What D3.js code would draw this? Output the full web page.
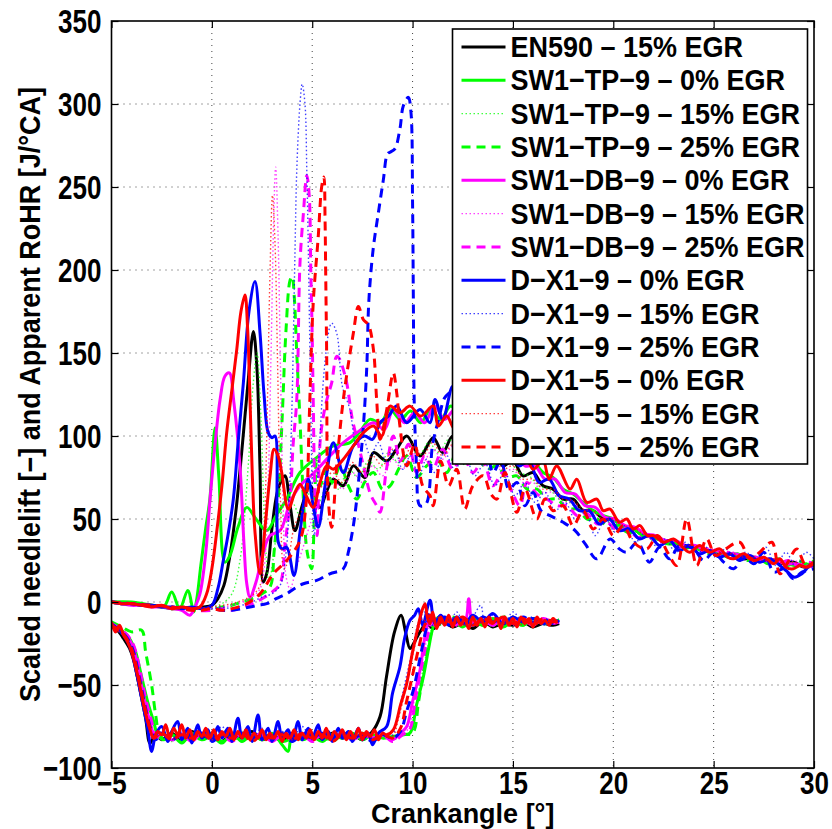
<!DOCTYPE html>
<html>
<head>
<meta charset="utf-8">
<script src="https://cdn.jsdelivr.net/npm/d3@7"></script>
<style>
  body { margin: 0; background: #fff; }
  text { font-family: "Liberation Sans", Arial, sans-serif; font-weight: bold; fill: #000; }
</style>
</head>
<body>
<svg id="chart" width="832" height="829"></svg>
<script>

// legend / series definitions
const legendLabels = [
    "EN590 \u2013 15% EGR",
    "SW1\u2212TP\u22129 \u2013 0% EGR",
    "SW1\u2212TP\u22129 \u2013 15% EGR",
    "SW1\u2212TP\u22129 \u2013 25% EGR",
    "SW1\u2212DB\u22129 \u2013 0% EGR",
    "SW1\u2212DB\u22129 \u2013 15% EGR",
    "SW1\u2212DB\u22129 \u2013 25% EGR",
    "D\u2212X1\u22129 \u2013 0% EGR",
    "D\u2212X1\u22129 \u2013 15% EGR",
    "D\u2212X1\u22129 \u2013 25% EGR",
    "D\u2212X1\u22125 \u2013 0% EGR",
    "D\u2212X1\u22125 \u2013 15% EGR",
    "D\u2212X1\u22125 \u2013 25% EGR"
]
const lineColors = ["#000000", "#00ff00", "#00ff00", "#00ff00", "#ff00ff", "#ff00ff", "#ff00ff",
                    "#0000ff", "#0000ff", "#0000ff", "#ff0000", "#ff0000", "#ff0000"]
const lineStyles = ["solid", "solid", "dotted", "dashed", "solid", "dotted", "dashed",
                    "solid", "dotted", "dashed", "solid", "dotted", "dashed"]

const xTicks = [-5, 0, 5, 10, 15, 20, 25, 30]
const yTicks = [-100, -50, 0, 50, 100, 150, 200, 250, 300, 350]

// apparent rate of heat release [J/°CA] vs crank angle [°]
const rohr_en590 = [[-5,0],[-4.5,-1],[-4,-1],[-3.5,-2],[-3,-2],[-2.5,-3],[-2,-4],[-1.5,-3],[-1,-4],[-0.5,-3],[0,-2],[0.3,2],[0.6,10],[0.9,28],[1.2,55],[1.5,92],[1.8,132],[2.07,163],[2.25,140],[2.4,80],[2.56,12],[2.75,18],[3.0,45],[3.3,68],[3.64,76],[3.9,58],[4.14,43],[4.5,58],[4.89,70],[5.39,57],[5.7,66],[6.05,74],[6.55,70],[7.05,82],[7.63,75],[8.05,90],[8.71,85],[9.2,92],[9.71,100],[10.37,88],[11.03,99],[11.5,90],[12,100],[12.5,92],[13,98],[13.5,88],[14,92],[14.5,82],[15,85],[15.5,76],[16,78],[16.5,70],[17,68],[17.5,62],[18,62],[18.5,55],[19,55],[19.5,50],[20,50],[20.5,45],[21,44],[21.5,40],[22,40],[22.5,37],[23,36],[23.5,33],[24,33],[24.5,31],[25,30],[25.5,28],[26,29],[26.5,26],[27,27],[27.5,25],[28,25],[28.5,23],[29,24],[29.5,21],[30,22]]
const rohr_tp9_0 = [[-5,0],[-4,0],[-3,-2],[-2.4,-3],[-2.0,6],[-1.6,-4],[-1.2,7],[-0.9,-6],[-0.75,2],[-0.55,22],[-0.3,45],[-0.1,62],[0.16,105],[0.35,75],[0.65,24],[0.9,28],[1.3,45],[1.74,57],[2.2,50],[2.73,43],[3.2,52],[3.73,62],[4.39,78],[5.22,87],[6.05,94],[6.88,96],[7.4,103],[7.88,110],[8.4,108],[8.88,116],[9.4,110],[9.9,115],[10.4,108],[10.9,116],[11.4,110],[11.9,118],[12.4,112],[13,115],[13.5,105],[14,108],[14.5,98],[15,95],[15.5,88],[16,85],[16.5,78],[17,75],[17.5,68],[18,65],[18.5,60],[19,55],[19.5,52],[20,50],[20.5,45],[21,44],[21.5,40],[22,40],[22.5,37],[23,36],[23.5,34],[24,33],[24.5,31],[25,31],[25.5,29],[26,29],[26.5,27],[27,27],[27.5,25],[28,25],[28.5,24],[29,22],[29.5,23],[30,22]]
const rohr_tp9_15 = [[-5,0],[-4,-1],[-3,-2],[-2,-3],[-1,-4],[0,-3],[0.5,-1],[1.0,5],[1.4,25],[1.8,80],[2.05,130],[2.25,150],[2.45,110],[2.65,40],[2.85,12],[3.1,30],[3.4,55],[3.7,48],[4.0,60],[4.4,52],[4.8,65],[5.3,60],[5.8,72],[6.3,68],[6.8,80],[7.3,75],[7.8,85],[8.3,80],[8.8,90],[9.3,84],[9.8,95],[10.3,88],[10.8,96],[11.3,90],[11.8,98],[12.3,92],[12.8,96],[13.3,88],[13.8,92],[14.3,85],[14.8,85],[15.3,78],[15.8,76],[16.3,70],[16.8,68],[17.3,62],[17.8,60],[18.3,56],[18.8,54],[19.3,50],[19.8,48],[20.3,46],[20.8,43],[21.3,41],[21.8,39],[22.3,37],[22.8,35],[23.3,34],[23.8,32],[24.3,31],[24.8,30],[25.3,29],[25.8,28],[26.3,27],[26.8,27],[27.3,25],[27.8,25],[28.3,24],[28.8,23],[29.3,22],[29.8,24],[30,23]]
const rohr_tp9_25 = [[-5,0],[-4,-1],[-3,-2],[-2,-4],[-1,-4],[0,-5],[0.5,-3],[1.0,-2],[1.5,0],[2.0,2],[2.5,5],[2.9,9],[3.1,30],[3.31,62],[3.5,110],[3.7,165],[3.9,194],[4.0,196],[4.1,185],[4.23,150],[4.39,110],[4.56,62],[4.75,30],[4.97,20],[5.1,50],[5.22,85],[5.4,70],[5.7,80],[6.0,72],[6.4,82],[6.8,70],[7.22,62],[7.6,72],[8.05,78],[8.5,68],[8.88,70],[9.3,80],[9.71,88],[10.2,75],[10.7,82],[11.2,86],[11.7,78],[12.2,90],[12.7,82],[13.2,88],[13.7,80],[14.2,82],[14.7,75],[15.2,76],[15.7,68],[16.2,68],[16.7,62],[17.2,62],[17.7,56],[18.2,56],[18.7,50],[19.2,50],[19.7,46],[20.2,46],[20.7,42],[21.2,42],[21.7,38],[22.2,38],[22.7,35],[23.2,35],[23.7,32],[24.2,32],[24.7,29],[25.2,31],[25.7,27],[26.2,29],[26.7,25],[27.2,27],[27.7,23],[28.2,26],[28.7,22],[29.2,25],[29.7,22],[30,25]]
const rohr_db9_0 = [[-5,0],[-4.5,-1],[-4,-2],[-3.5,-2],[-3,-3],[-2.5,-3],[-2,-4],[-1.5,-5],[-1.1,-8],[-0.8,-2],[-0.59,5],[-0.3,30],[-0.09,62],[0.2,100],[0.41,122],[0.65,136],[0.87,138],[1.1,120],[1.4,82],[1.6,35],[1.74,11],[1.9,3],[2.2,12],[2.56,30],[2.9,40],[3.4,43],[3.9,60],[4.39,70],[5.1,78],[5.88,88],[6.55,96],[7.22,102],[8.05,108],[8.6,104],[9.04,116],[9.6,108],[10.1,114],[10.6,108],[11.1,118],[11.6,110],[12.1,116],[12.6,106],[13.1,110],[13.6,98],[14.1,100],[14.6,90],[15.1,90],[15.6,82],[16.1,82],[16.6,74],[17.1,74],[17.6,66],[18.1,65],[18.6,58],[19.1,57],[19.6,51],[20.1,50],[20.6,46],[21.1,45],[21.6,41],[22.1,40],[22.6,37],[23.1,37],[23.6,34],[24.1,34],[24.6,31],[25.1,31],[25.6,29],[26.1,29],[26.6,27],[27.1,27],[27.6,25],[28.1,25],[28.6,23],[29.1,23],[29.6,21],[30,22]]
const rohr_db9_15 = [[-5,0],[-4,-1],[-3,-2],[-2,-3],[-1,-4],[0,-4],[0.5,-3],[1,-2],[1.5,0],[2.0,3],[2.4,8],[2.6,20],[2.8,70],[2.95,150],[3.08,230],[3.18,262],[3.3,220],[3.42,140],[3.55,60],[3.7,15],[3.9,8],[4.2,20],[4.6,35],[5.0,50],[5.5,60],[6.0,75],[6.5,68],[7.0,78],[7.5,72],[8.0,82],[8.5,76],[9.0,86],[9.5,80],[10.0,90],[10.5,84],[11.0,92],[11.5,86],[12.0,94],[12.5,86],[13.0,90],[13.5,82],[14.0,86],[14.5,78],[15.0,80],[15.5,72],[16.0,72],[16.5,66],[17.0,66],[17.5,60],[18.0,60],[18.5,54],[19.0,54],[19.5,49],[20.0,49],[20.5,45],[21.0,45],[21.5,41],[22.0,40],[22.5,37],[23.0,37],[23.5,34],[24.0,34],[24.5,31],[25.0,32],[25.5,29],[26.0,30],[26.5,27],[27.0,28],[27.5,25],[28.0,26],[28.5,23],[29.0,25],[29.5,22],[30,24]]
const rohr_db9_25 = [[-5,0],[-4,-1],[-3,-2],[-2,-3],[-1,-5],[0,-5],[0.5,-4],[1.0,-5],[1.5,-3],[2.0,-1],[2.5,2],[3.0,6],[3.4,11],[3.65,35],[3.9,62],[4.05,95],[4.23,122],[4.39,204],[4.56,234],[4.73,257],[4.85,245],[4.93,200],[5.0,160],[5.05,122],[5.14,62],[5.25,40],[5.39,96],[5.6,115],[5.8,125],[5.97,132],[6.22,148],[6.38,146],[6.55,140],[6.72,132],[7.0,110],[7.3,95],[7.55,82],[7.9,65],[8.21,58],[8.38,54],[8.7,80],[9.04,100],[9.4,85],[9.8,95],[10.2,78],[10.6,88],[11.0,80],[11.5,92],[12.0,80],[12.5,88],[13.0,78],[13.5,85],[14.0,70],[14.5,78],[15.0,65],[15.35,58],[15.7,72],[16.2,65],[16.7,62],[17.2,58],[17.7,58],[18.2,52],[18.7,53],[19.2,47],[19.7,48],[20.2,43],[20.7,44],[21.2,39],[21.7,40],[22.2,36],[22.7,37],[23.2,33],[23.7,34],[24.2,30],[24.7,32],[25.2,28],[25.7,30],[26.2,26],[26.7,28],[27.2,25],[27.7,26],[28.2,23],[28.7,25],[29.2,22],[29.7,24],[30,23]]
const rohr_x19_0 = [[-5,0],[-4.5,-1],[-4,-1],[-3.5,-2],[-3,-2],[-2.5,-3],[-2,-3],[-1.5,-4],[-1,-3],[-0.5,-4],[0,-2],[0.3,8],[0.57,25],[0.8,40],[1.07,62],[1.3,95],[1.57,132],[1.85,175],[2.15,193],[2.4,162],[2.6,125],[2.81,102],[3.0,99],[3.15,100],[3.31,36],[3.5,32],[3.73,33],[4.09,16],[4.39,42],[4.8,74],[5.05,58],[5.3,45],[5.64,70],[6.05,96],[6.55,78],[7.05,94],[7.6,100],[8.0,98],[8.38,108],[8.8,112],[9.21,118],[9.71,108],[10.37,116],[10.87,108],[11.12,122],[11.5,110],[12.0,130],[12.4,112],[12.8,118],[13.3,102],[13.8,108],[14.3,92],[14.8,95],[15.3,82],[15.8,85],[16.3,72],[16.8,74],[17.3,64],[17.8,62],[18.3,55],[18.8,55],[19.3,47],[19.8,50],[20.3,43],[20.8,44],[21.3,38],[21.8,40],[22.3,34],[22.8,37],[23.3,31],[23.8,34],[24.3,29],[24.8,31],[25.3,27],[25.8,29],[26.3,25],[26.8,28],[27.3,24],[27.8,26],[28.3,22],[28.7,18],[29.0,15],[29.4,17],[29.8,22],[30,22]]
const rohr_x19_15 = [[-5,0],[-4,-1],[-3,-2],[-2,-3],[-1,-4],[0,-4],[0.5,-3],[1.0,-4],[1.5,-2],[2.0,0],[2.5,3],[3.0,5],[3.4,10],[3.7,30],[3.95,100],[4.14,210],[4.23,260],[4.39,300],[4.5,312],[4.64,300],[4.73,260],[4.81,210],[4.9,140],[5.0,70],[5.1,40],[5.3,80],[5.6,140],[5.88,166],[5.97,168],[6.22,162],[6.5,130],[6.88,116],[7.2,95],[7.5,100],[7.9,88],[8.3,96],[8.7,84],[9.1,92],[9.5,80],[9.9,88],[10.3,76],[10.7,86],[11.1,78],[11.6,90],[12.1,80],[12.6,88],[13.1,76],[13.6,84],[14.1,70],[14.6,78],[15.1,64],[15.6,72],[16.1,60],[16.6,66],[17.1,55],[17.6,60],[18.1,50],[18.6,54],[19.1,40],[19.6,50],[20.1,42],[20.6,46],[21.1,36],[21.6,42],[22.1,34],[22.6,38],[23.1,30],[23.6,36],[24.1,28],[24.6,33],[25.1,27],[25.6,32],[26.1,26],[26.6,30],[27.1,25],[27.6,33],[28.1,22],[28.6,30],[29.1,21],[29.6,30],[30,26]]
const rohr_x19_25 = [[-5,0],[-4,-1],[-3,-2],[-2,-3],[-1,-4],[0,-4],[0.5,-5],[1.0,-5],[1.5,-4],[1.9,-3],[2.3,-2],[2.73,-1],[3.2,2],[3.73,5],[4.1,8],[4.56,11],[5.22,13],[5.88,17],[6.55,20],[6.8,30],[7.05,46],[7.22,62],[7.38,82],[7.55,106],[7.72,142],[7.8,176],[7.88,192],[8.05,214],[8.29,234],[8.54,254],[8.75,270],[8.88,271],[9.12,273],[9.37,285],[9.54,299],[9.79,304],[9.92,295],[10.0,240],[10.04,180],[10.08,122],[10.2,82],[10.37,58],[10.67,59],[11.0,95],[11.3,110],[11.6,123],[12.0,128],[12.39,135],[12.8,110],[13.2,95],[13.6,100],[14.0,78],[14.4,85],[14.8,68],[15.2,72],[15.6,58],[16.0,66],[16.4,55],[16.85,52],[17.5,48],[18.1,43],[18.6,35],[19.18,26],[19.84,38],[20.3,32],[20.67,30],[21.2,36],[21.8,24],[22.3,33],[22.8,26],[23.3,34],[24.0,32],[24.5,25],[25.0,30],[25.5,24],[26.0,20],[26.5,28],[27.0,23],[27.5,30],[28.0,18],[28.5,20],[28.97,14],[29.4,18],[30,20]]
const rohr_x15_0 = [[-5,0],[-4.5,-1],[-4,-1],[-3.5,-2],[-3,-3],[-2.5,-2],[-2,-4],[-1.5,-3],[-1,-4],[-0.6,-3],[-0.26,5],[0.0,20],[0.24,42],[0.5,70],[0.74,102],[1.0,128],[1.24,152],[1.45,175],[1.65,185],[1.78,165],[1.9,122],[2.02,75],[2.15,42],[2.4,17],[2.65,45],[2.9,76],[3.1,92],[3.3,88],[3.48,78],[3.81,56],[4.14,66],[4.39,71],[4.7,64],[5.05,57],[5.39,72],[5.72,82],[6.05,80],[6.55,86],[7.05,94],[7.55,102],[8.05,106],[8.46,100],[8.88,118],[9.37,114],[9.87,118],[10.4,112],[11.03,118],[11.28,106],[11.7,112],[12.1,104],[12.5,110],[13.0,100],[13.5,106],[14.0,95],[14.5,100],[15.0,88],[15.5,92],[16.0,80],[16.5,85],[16.8,74],[17.18,82],[17.85,68],[18.18,74],[18.68,60],[19.18,62],[19.5,55],[19.84,56],[20.3,48],[20.67,50],[21.0,44],[21.33,46],[21.7,40],[22.0,40],[22.5,36],[23.0,38],[23.3,35],[23.8,30],[24.3,34],[24.8,30],[25.3,32],[25.7,27],[26.0,26],[26.5,29],[27.0,25],[27.5,27],[28.0,23],[28.3,26],[28.6,21],[28.97,20],[29.3,22],[29.64,21],[30,23]]
const rohr_x15_15 = [[-5,0],[-4,-1],[-3,-2],[-2,-3],[-1,-4],[0,-3],[0.5,-2],[1.0,-1],[1.5,1],[2.0,4],[2.4,10],[2.6,40],[2.75,110],[2.9,200],[3.02,245],[3.15,215],[3.28,140],[3.42,60],[3.6,20],[3.8,25],[4.1,45],[4.5,55],[5.0,62],[5.5,70],[6.0,78],[6.5,72],[7.0,84],[7.5,78],[8.0,88],[8.5,82],[9.0,92],[9.5,85],[10.0,95],[10.5,88],[11.0,96],[11.5,88],[12.0,95],[12.5,88],[13.0,92],[13.5,84],[14.0,88],[14.5,80],[15.0,82],[15.5,74],[16.0,74],[16.5,68],[17.0,68],[17.5,62],[18.0,61],[18.5,56],[19.0,55],[19.5,50],[20.0,50],[20.5,46],[21.0,45],[21.5,41],[22.0,40],[22.5,37],[23.0,37],[23.5,34],[24.0,34],[24.5,31],[25.0,32],[25.5,29],[26.0,29],[26.5,27],[27.0,27],[27.5,25],[28.0,26],[28.5,23],[29.0,24],[29.5,22],[30,23]]
const rohr_x15_25 = [[-5,0],[-4,-1],[-3,-2],[-2,-3],[-1,-5],[-0.5,-5],[0,-4],[0.5,-5],[1.0,-4],[1.74,-1],[2.4,5],[3.06,17],[3.73,25],[4.39,37],[4.7,60],[4.85,110],[5.05,180],[5.3,220],[5.47,250],[5.58,256],[5.64,230],[5.67,200],[5.72,150],[5.8,62],[5.97,45],[6.22,82],[6.55,122],[7.05,162],[7.3,178],[7.55,170],[7.8,167],[8.05,152],[8.21,122],[8.38,98],[8.7,115],[9.04,138],[9.21,126],[9.37,106],[9.71,82],[10.1,95],[10.5,70],[10.87,64],[11.03,58],[11.4,85],[11.8,70],[12.2,80],[12.6,56],[13.0,70],[13.52,76],[13.9,65],[14.2,62],[14.6,78],[15.19,54],[15.6,68],[16.19,50],[16.6,62],[17.0,55],[17.5,58],[18.0,46],[18.5,55],[19.0,44],[19.5,50],[20.0,40],[20.5,46],[21.0,36],[21.67,32],[22.2,40],[22.7,30],[23.16,22],[23.66,50],[24.16,22],[24.65,38],[25.1,28],[25.6,32],[26.3,36],[26.8,26],[27.3,30],[27.9,36],[28.3,17],[28.7,24],[29.14,32],[29.6,22],[30,24]]

// scaled needle lift [-] (plotted negative) vs crank angle [°]
const lift_en590 = [[-5,-14],[-4.7,-17],[-4.4,-22],[-4.1,-28],[-3.9,-35],[-3.6,-52],[-3.3,-70],[-3.08,-85],[-2.8,-80],[-2.5,-83],[-2,-79],[-1.5,-84],[-1,-78],[-0.5,-82],[0,-80],[0.5,-84],[1,-79],[1.5,-82],[2,-78],[2.5,-83],[3,-80],[3.5,-84],[4,-79],[4.5,-82],[5,-80],[5.5,-83],[6,-79],[6.5,-82],[7,-80],[7.5,-83],[8,-78],[8.38,-69],[8.7,-45],[9.1,-18],[9.43,-8],[9.65,-18],[9.87,-28],[10.1,-24],[10.37,-18],[10.7,-13],[11.03,-16],[11.5,-12],[12,-15],[12.5,-13],[13,-16],[13.5,-12],[14,-15],[14.5,-13],[15,-14],[15.5,-12],[16,-15],[16.5,-13],[17,-14],[17.3,-13]]
const lift_tp9_0 = [[-5,-13],[-4.7,-16],[-4.4,-18],[-4.1,-22],[-3.8,-30],[-3.5,-45],[-3.2,-60],[-2.9,-72],[-2.7,-80],[-2.4,-83],[-2,-80],[-1.5,-85],[-1,-79],[-0.5,-83],[0,-81],[0.5,-85],[1,-79],[1.5,-84],[2,-80],[2.5,-83],[3,-79],[3.5,-86],[3.8,-90],[4,-80],[4.5,-83],[5,-81],[5.5,-84],[6,-80],[6.5,-82],[7,-79],[7.5,-83],[8,-80],[8.5,-82],[9,-81],[9.5,-80],[9.87,-79],[10.2,-62],[10.54,-45],[10.8,-28],[11.03,-15],[11.3,-9],[11.6,-13],[12,-11],[12.5,-15],[13,-10],[13.5,-14],[14,-11],[14.5,-15],[15,-12],[15.5,-14],[16,-10],[16.5,-13],[17,-12],[17.3,-11]]
const lift_tp9_15 = [[-5,-15],[-4.6,-18],[-4.2,-22],[-3.9,-30],[-3.6,-44],[-3.3,-60],[-3.0,-74],[-2.7,-82],[-2.3,-79],[-2,-84],[-1.5,-80],[-1,-83],[-0.5,-79],[0,-84],[0.5,-80],[1,-82],[1.5,-78],[2,-84],[2.5,-80],[3,-83],[3.5,-79],[4,-82],[4.5,-80],[5,-84],[5.5,-79],[6,-82],[6.5,-80],[7,-83],[7.5,-79],[8,-82],[8.5,-80],[9,-83],[9.5,-80],[9.9,-78],[10.2,-60],[10.5,-42],[10.8,-25],[11.1,-12],[11.4,-14],[11.8,-10],[12.2,-14],[12.6,-9],[13,-13],[13.5,-11],[14,-15],[14.5,-8],[15,-13],[15.5,-10],[16,-14],[16.5,-11],[17,-13],[17.3,-10]]
const lift_tp9_25 = [[-5,-12],[-4.5,-15],[-4,-18],[-3.5,-17],[-3.3,-30],[-3.0,-50],[-2.8,-68],[-2.6,-80],[-2.3,-83],[-2,-80],[-1.5,-84],[-1,-80],[-0.5,-83],[0,-79],[0.5,-84],[1,-81],[1.5,-83],[2,-79],[2.5,-82],[3,-80],[3.5,-84],[4,-82],[4.5,-79],[5,-83],[5.5,-80],[6,-84],[6.5,-80],[7,-82],[7.5,-79],[8,-83],[8.5,-80],[9,-82],[9.5,-80],[10,-79],[10.3,-60],[10.6,-38],[10.9,-20],[11.2,-10],[11.6,-13],[12,-9],[12.5,-13],[13,-11],[13.5,-14],[14,-10],[14.5,-13],[15,-11],[15.5,-14],[16,-10],[16.5,-13],[17,-11],[17.3,-12]]
const lift_db9_0 = [[-5,-14],[-4.6,-17],[-4.2,-21],[-3.9,-28],[-3.6,-45],[-3.3,-62],[-3.0,-76],[-2.8,-82],[-2.5,-79],[-2,-83],[-1.5,-80],[-1,-84],[-0.5,-79],[0,-82],[0.5,-80],[1,-83],[1.5,-79],[2,-82],[2.5,-80],[3,-84],[3.5,-80],[4,-82],[4.5,-79],[5,-83],[5.5,-80],[6,-82],[6.5,-79],[7,-83],[7.5,-80],[8,-82],[8.5,-80],[9,-83],[9.4,-79],[9.71,-75],[10.0,-60],[10.37,-41],[10.6,-22],[10.87,-9],[11.1,-14],[11.5,-10],[12,-13],[12.6,-12],[12.8,2],[13.0,-12],[13.5,-11],[14,-14],[14.5,-10],[15,-13],[15.5,-10],[16,-13],[16.5,-11],[17,-13],[17.3,-12]]
const lift_db9_15 = [[-5,-15],[-4.6,-18],[-4.2,-22],[-3.9,-30],[-3.6,-46],[-3.3,-62],[-3.0,-75],[-2.8,-82],[-2.5,-80],[-2,-84],[-1.5,-79],[-1,-82],[-0.5,-80],[0,-84],[0.5,-79],[1,-83],[1.5,-80],[2,-82],[2.5,-79],[3,-83],[3.5,-80],[4,-84],[4.5,-80],[5,-82],[5.5,-79],[6,-83],[6.5,-80],[7,-82],[7.5,-80],[8,-84],[8.5,-80],[9,-82],[9.5,-80],[9.8,-76],[10.1,-58],[10.45,-38],[10.75,-20],[11.0,-10],[11.4,-13],[11.8,-9],[12.2,-13],[12.6,-10],[13,-14],[13.5,-10],[14,-13],[14.5,-11],[15,-14],[15.5,-10],[16,-13],[16.5,-11],[17,-13],[17.3,-11]]
const lift_db9_25 = [[-5,-13],[-4.6,-16],[-4.2,-20],[-3.9,-26],[-3.6,-40],[-3.3,-58],[-3.0,-72],[-2.75,-82],[-2.5,-79],[-2,-83],[-1.5,-80],[-1,-82],[-0.5,-79],[0,-83],[0.5,-80],[1,-84],[1.5,-80],[2,-82],[2.5,-79],[3,-83],[3.5,-80],[4,-82],[4.5,-80],[5,-84],[5.5,-80],[6,-82],[6.5,-79],[7,-83],[7.5,-80],[8,-82],[8.5,-80],[9,-84],[9.5,-80],[9.85,-77],[10.15,-58],[10.5,-36],[10.8,-18],[11.05,-9],[11.4,-12],[11.8,-10],[12.2,-14],[12.6,-10],[13,-13],[13.5,-11],[14,-14],[14.5,-10],[15,-13],[15.5,-11],[16,-14],[16.5,-10],[17,-12],[17.3,-12]]
const lift_x19_0 = [[-5,-13],[-4.7,-16],[-4.4,-20],[-4.1,-26],[-3.8,-40],[-3.5,-58],[-3.2,-76],[-3.0,-90],[-2.8,-80],[-2.5,-75],[-2.2,-84],[-2,-78],[-1.7,-72],[-1.5,-83],[-1.2,-76],[-1,-85],[-0.7,-74],[-0.5,-82],[-0.2,-77],[0,-84],[0.3,-75],[0.5,-82],[0.8,-76],[1,-84],[1.3,-70],[1.5,-82],[1.8,-75],[2,-84],[2.3,-68],[2.5,-83],[2.8,-76],[3,-84],[3.3,-72],[3.5,-82],[3.8,-77],[4,-84],[4.3,-72],[4.5,-83],[4.8,-76],[5,-82],[5.3,-74],[5.5,-83],[5.8,-78],[6,-84],[6.3,-76],[6.5,-82],[6.8,-78],[7,-84],[7.3,-76],[7.5,-83],[7.8,-79],[8,-86],[8.3,-79],[8.71,-75],[9.0,-55],[9.37,-39],[9.6,-22],[9.87,-11],[10.1,-8],[10.29,-4],[10.5,-14],[10.87,1],[11.1,-13],[11.4,-8],[11.8,-14],[12.2,-9],[12.6,-13],[13,-8],[13.5,-12],[14,-7],[14.5,-13],[15,-9],[15.5,-12],[16,-10],[16.5,-13],[17,-11],[17.3,-12]]
const lift_x19_15 = [[-5,-15],[-4.6,-18],[-4.3,-23],[-4.0,-32],[-3.7,-48],[-3.4,-65],[-3.1,-78],[-2.9,-84],[-2.5,-78],[-2,-83],[-1.5,-76],[-1,-84],[-0.5,-78],[0,-82],[0.5,-75],[1,-84],[1.5,-79],[2,-82],[2.5,-76],[3,-84],[3.5,-78],[4,-82],[4.5,-75],[5,-83],[5.5,-78],[6,-82],[6.5,-77],[7,-84],[7.5,-79],[8,-82],[8.5,-80],[9.0,-80],[9.2,-72],[9.6,-50],[10.0,-28],[10.3,-12],[10.6,-6],[11.0,-14],[11.4,-8],[11.8,-13],[12.2,-6],[12.6,-14],[13,-9],[13.4,-2],[13.6,-13],[14,-8],[14.5,-14],[15,-6],[15.5,-12],[16,-9],[16.5,-14],[17,-10],[17.3,-12]]
const lift_x19_25 = [[-5,-14],[-4.6,-17],[-4.2,-22],[-3.9,-30],[-3.6,-46],[-3.3,-64],[-3.0,-78],[-2.8,-83],[-2.5,-79],[-2,-83],[-1.5,-80],[-1,-82],[-0.5,-79],[0,-84],[0.5,-80],[1,-82],[1.5,-79],[2,-83],[2.5,-80],[3,-82],[3.5,-79],[4,-84],[4.5,-80],[5,-82],[5.5,-79],[6,-83],[6.5,-80],[7,-82],[7.5,-80],[8,-84],[8.5,-80],[9.0,-82],[9.4,-78],[9.7,-66],[10.04,-53],[10.4,-32],[10.7,-15],[10.9,-6],[11.2,-12],[11.6,-9],[12,-13],[12.5,-10],[13,-14],[13.5,-9],[14,-12],[14.5,-10],[15,-13],[15.5,-9],[16,-12],[16.5,-10],[17,-13],[17.3,-11]]
const lift_x15_0 = [[-5,-12],[-4.8,-18],[-4.6,-14],[-4.4,-20],[-4.2,-24],[-4.0,-30],[-3.7,-44],[-3.4,-62],[-3.1,-76],[-2.9,-82],[-2.7,-78],[-2.5,-80],[-2.3,-74],[-2.1,-82],[-1.9,-76],[-1.7,-80],[-1.5,-74],[-1.3,-82],[-1.1,-77],[-0.9,-83],[-0.7,-78],[-0.5,-81],[-0.3,-76],[-0.1,-82],[0.1,-77],[0.3,-83],[0.5,-78],[0.7,-81],[0.9,-76],[1.1,-83],[1.3,-78],[1.5,-82],[1.7,-77],[1.9,-83],[2.1,-79],[2.3,-82],[2.5,-77],[2.7,-83],[2.9,-79],[3.1,-82],[3.3,-78],[3.5,-84],[3.7,-79],[3.9,-82],[4.1,-77],[4.3,-83],[4.5,-79],[4.7,-82],[4.9,-77],[5.1,-83],[5.3,-78],[5.5,-82],[5.7,-76],[5.9,-83],[6.1,-78],[6.3,-81],[6.5,-77],[6.7,-83],[6.9,-78],[7.1,-82],[7.3,-76],[7.5,-83],[7.7,-78],[7.9,-81],[8.1,-77],[8.3,-83],[8.5,-79],[8.7,-80],[9.04,-77],[9.4,-62],[9.71,-49],[10.0,-30],[10.2,-19],[10.45,-6],[10.62,-1],[10.75,-10],[10.87,-13],[11.0,-6],[11.2,-16],[11.4,-9],[11.6,-14],[11.8,-8],[12.0,-15],[12.2,-9],[12.4,-14],[12.6,-10],[12.8,-16],[13.0,-9],[13.2,-14],[13.4,-10],[13.6,-15],[13.8,-9],[14.0,-13],[14.2,-10],[14.4,-16],[14.6,-9],[14.8,-14],[15.0,-10],[15.2,-15],[15.4,-9],[15.6,-13],[15.8,-10],[16.0,-15],[16.2,-9],[16.4,-13],[16.6,-11],[16.8,-14],[17.0,-10],[17.2,-13]]
const lift_x15_15 = [[-5,-15],[-4.6,-18],[-4.3,-22],[-4.0,-30],[-3.7,-46],[-3.4,-63],[-3.1,-77],[-2.9,-82],[-2.5,-80],[-2,-83],[-1.5,-79],[-1,-82],[-0.5,-80],[0,-83],[0.5,-79],[1,-82],[1.5,-80],[2,-84],[2.5,-80],[3,-82],[3.5,-79],[4,-83],[4.5,-80],[5,-82],[5.5,-79],[6,-84],[6.5,-80],[7,-82],[7.5,-79],[8,-83],[8.5,-80],[9.0,-81],[9.3,-70],[9.6,-55],[9.9,-38],[10.2,-22],[10.5,-10],[10.8,-14],[11.2,-9],[11.6,-13],[12,-10],[12.5,-14],[13,-10],[13.5,-13],[14,-9],[14.5,-13],[15,-10],[15.5,-14],[16,-10],[16.5,-12],[17,-10],[17.3,-12]]
const lift_x15_25 = [[-5,-14],[-4.6,-17],[-4.3,-21],[-4.0,-28],[-3.7,-42],[-3.4,-60],[-3.1,-75],[-2.9,-82],[-2.5,-79],[-2,-83],[-1.5,-80],[-1,-82],[-0.5,-79],[0,-83],[0.5,-80],[1,-82],[1.5,-79],[2,-84],[2.5,-80],[3,-82],[3.5,-80],[4,-83],[4.5,-79],[5,-82],[5.5,-80],[6,-84],[6.5,-80],[7,-82],[7.5,-79],[8,-83],[8.5,-80],[9.0,-82],[9.4,-76],[9.7,-60],[10.0,-44],[10.3,-28],[10.6,-14],[10.9,-8],[11.2,-14],[11.6,-10],[12,-13],[12.5,-9],[13,-14],[13.5,-10],[14,-13],[14.5,-9],[15,-13],[15.5,-10],[16,-14],[16.5,-10],[17,-12],[17.3,-11]]

const rohrData = [rohr_en590, rohr_tp9_0, rohr_tp9_15, rohr_tp9_25, rohr_db9_0, rohr_db9_15, rohr_db9_25,
                  rohr_x19_0, rohr_x19_15, rohr_x19_25, rohr_x15_0, rohr_x15_15, rohr_x15_25]
const liftData = [lift_en590, lift_tp9_0, lift_tp9_15, lift_tp9_25, lift_db9_0, lift_db9_15, lift_db9_25,
                  lift_x19_0, lift_x19_15, lift_x19_25, lift_x15_0, lift_x15_15, lift_x15_25]

const series = legendLabels.map((label, i) => ({
    label: label, color: lineColors[i], style: lineStyles[i], rohr: rohrData[i], lift: liftData[i]
}))

// stroke look per line style
const style_lookup = {
    solid: { width: 3, dash: null, opacity: 1 },
    dashed: { width: 3, dash: "9,6", opacity: 1 },
    dotted: { width: 1.4, dash: "1.5,2.5", opacity: 0.75 }
}

const margin = { left: 111.5, top: 21, right: 18, bottom: 61 }
const width = 832 - margin.left - margin.right
const height = 829 - margin.top - margin.bottom

const svg = d3.select('#chart')

const x = d3.scaleLinear().domain([-5, 30]).range([margin.left, margin.left + width])
const y = d3.scaleLinear().domain([-100, 350]).range([margin.top + height, margin.top])

svg.append('defs').append('clipPath').attr('id', 'plot-clip')
    .append('rect')
    .attr('x', margin.left).attr('y', margin.top)
    .attr('width', width).attr('height', height)

// grid
const grid = svg.append('g').attr('class', 'grid')
    .attr('stroke', '#444').attr('stroke-width', 1).attr('stroke-dasharray', '1,5')
grid.selectAll('line.gx').data(xTicks.slice(1, -1)).join('line')
    .attr('x1', d => x(d)).attr('x2', d => x(d))
    .attr('y1', margin.top).attr('y2', margin.top + height)
grid.selectAll('line.gy').data(yTicks.slice(1, -1)).join('line')
    .attr('class', 'gy')
    .attr('x1', margin.left).attr('x2', margin.left + width)
    .attr('y1', d => y(d)).attr('y2', d => y(d))

// curves
const line = d3.line()
    .x(d => x(d[0]))
    .y(d => y(d[1]))
    .curve(d3.curveCatmullRom.alpha(0.5))

const curves = svg.append('g').attr('clip-path', 'url(#plot-clip)')
for (let s of series) {
    let st = style_lookup[s.style]
    for (let part of [s.lift, s.rohr]) {
        curves.append('path')
            .attr('d', line(part))
            .attr('fill', 'none')
            .attr('stroke', s.color)
            .attr('stroke-width', st.width)
            .attr('stroke-opacity', st.opacity)
            .attr('stroke-dasharray', st.dash)
            .attr('stroke-linejoin', 'round')
    }
}

// axes: box with inward ticks on all four sides
const tickLen = 7
const fmt = d => d < 0 ? '\u2212' + Math.abs(d) : String(d)

// the original figure's lettering is a bit taller than it is wide
const stretch = 'scale(1,1.18)'

svg.append('g')
    .attr('transform', `translate(0,${margin.top + height})`)
    .call(d3.axisBottom(x).tickValues(xTicks).tickSize(-tickLen).tickFormat(fmt))
    .call(g => g.select('.domain').remove())
    .call(g => g.selectAll('.tick text').attr('y', 0).attr('dy', 0)
        .attr('transform', `translate(0,26) ${stretch}`))
svg.append('g')
    .attr('transform', `translate(0,${margin.top})`)
    .call(d3.axisTop(x).tickValues(xTicks).tickSize(-tickLen).tickFormat(''))
    .call(g => g.select('.domain').remove())
svg.append('g')
    .attr('transform', `translate(${margin.left},0)`)
    .call(d3.axisLeft(y).tickValues(yTicks).tickSize(-tickLen).tickFormat(fmt))
    .call(g => g.select('.domain').remove())
    .call(g => g.selectAll('.tick text').attr('x', 0).attr('dy', 0)
        .attr('transform', `translate(-10,11) scale(1,1.28)`))
svg.append('g')
    .attr('transform', `translate(${margin.left + width},0)`)
    .call(d3.axisRight(y).tickValues(yTicks).tickSize(-tickLen).tickFormat(''))
    .call(g => g.select('.domain').remove())

svg.selectAll('.tick line').attr('stroke', '#000').attr('stroke-width', 1.2)
svg.selectAll('.tick text')
    .attr('font-size', 26)
    .attr('font-family', '"Liberation Sans", Arial, sans-serif')
    .attr('font-weight', 'bold')
    .attr('fill', '#000')

svg.append('rect')
    .attr('x', margin.left).attr('y', margin.top)
    .attr('width', width).attr('height', height)
    .attr('fill', 'none').attr('stroke', '#000').attr('stroke-width', 1.6)

// axis labels
svg.append('text')
    .attr('x', margin.left + width / 2).attr('y', 823)
    .attr('text-anchor', 'middle').attr('font-size', 27)
    .text('Crankangle [\u00b0]')
svg.append('text')
    .attr('transform', `translate(40,${margin.top + height / 2}) rotate(-90) scale(1,1.1)`)
    .attr('text-anchor', 'middle').attr('font-size', 27)
    .text('Scaled needlelift [\u2212] and Apparent RoHR [J/\u00b0CA]')

// legend
const legend = { x: 452.5, y: 29, w: 355, h: 435, rowH: 33.33, firstRow: 47 }
const lg = svg.append('g').attr('class', 'legend')
lg.append('rect')
    .attr('x', legend.x).attr('y', legend.y)
    .attr('width', legend.w).attr('height', legend.h)
    .attr('fill', '#fff').attr('stroke', '#000').attr('stroke-width', 1.6)

const rows = lg.selectAll('g.row').data(series).join('g')
    .attr('class', 'row')
    .attr('transform', (d, i) => `translate(${legend.x},${legend.firstRow + i * legend.rowH})`)
rows.append('line')
    .attr('x1', 9).attr('x2', 53).attr('y1', 0).attr('y2', 0)
    .attr('stroke', d => d.color)
    .attr('stroke-width', d => style_lookup[d.style].width)
    .attr('stroke-opacity', d => style_lookup[d.style].opacity)
    .attr('stroke-dasharray', d => style_lookup[d.style].dash)
rows.append('text')
    .attr('transform', 'translate(58,10) scale(1,1.1)')
    .attr('font-size', 27)
    .text(d => d.label)

</script>
</body>
</html>
